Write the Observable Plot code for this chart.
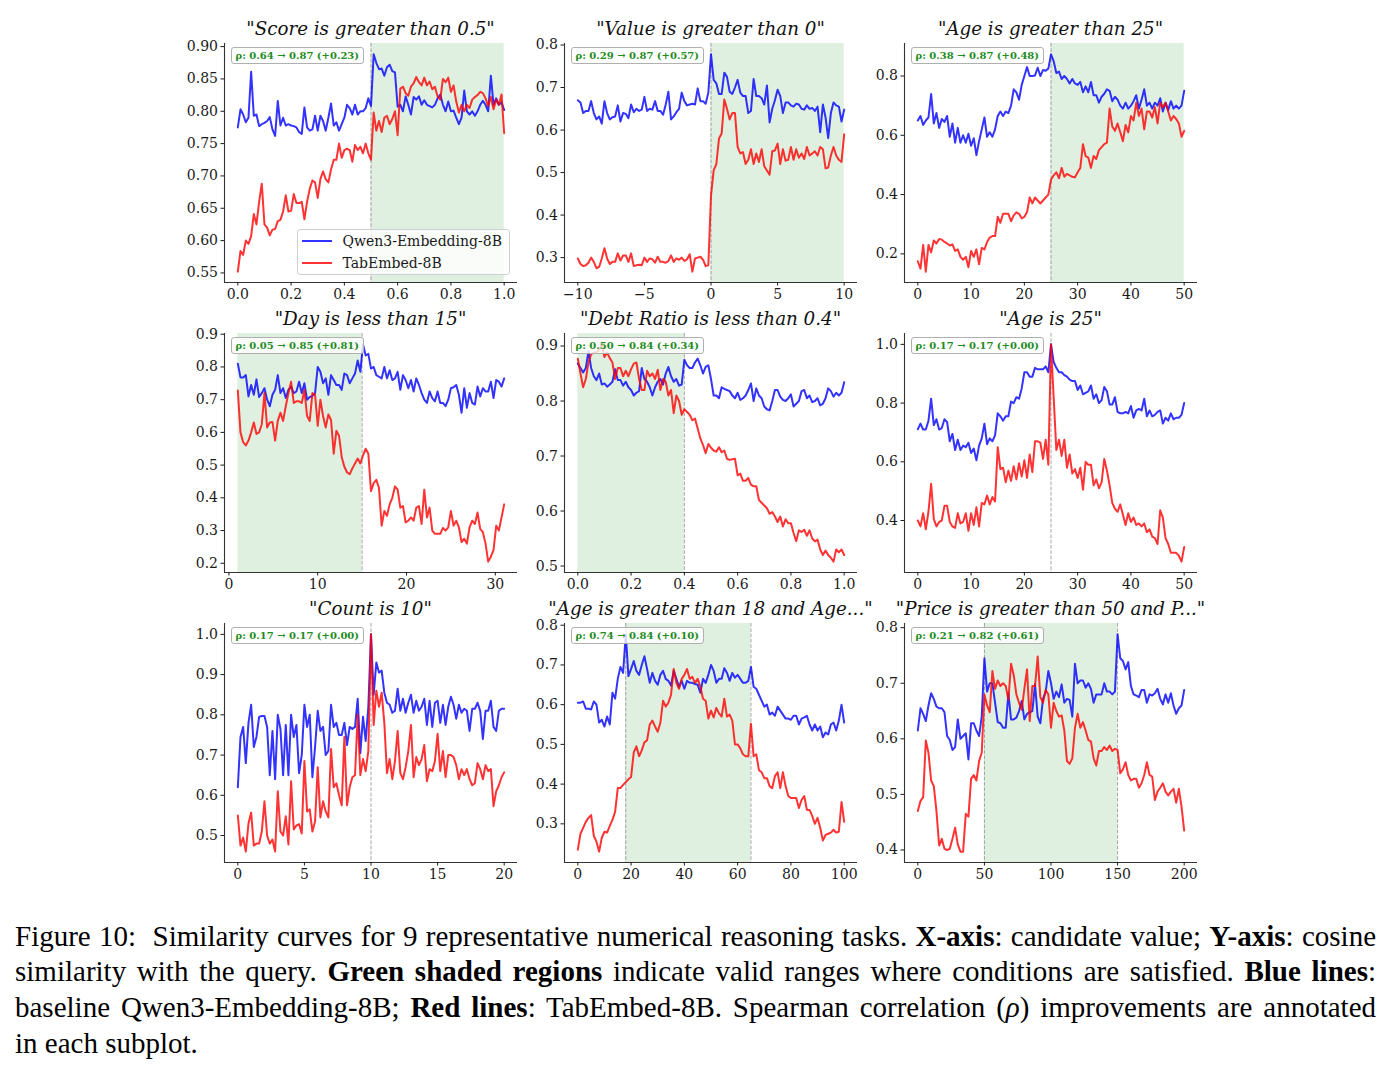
<!DOCTYPE html>
<html>
<head>
<meta charset="utf-8">
<script src="https://cdn.jsdelivr.net/npm/d3@7"></script>
<script src="https://cdn.jsdelivr.net/npm/@observablehq/plot@0.6"></script>
<style>
  body { margin: 0; background: #fff; }
  #fig { position: relative; width: 1396px; height: 1076px; font-family: "DejaVu Serif", serif; color: #1a1a1a; }
  .panel { position: absolute; }
  .title { position: absolute; font-style: italic; font-size: 18.3px; line-height: 18px; white-space: nowrap; transform: translateX(-50%); color: #111; }
  .rho { position: absolute; font-weight: bold; font-size: 10px; line-height: 12px; color: #228b22; background: rgba(255,255,255,0.8);
         border: 1px solid #b0b0b0; border-radius: 3px; padding: 1.5px 4px; white-space: nowrap; }
  .legend { position: absolute; width: 213px; height: 46px; background: rgba(255,255,255,0.8); border: 1px solid #d0d0d0; border-radius: 3px; box-sizing: border-box; }
  .legend .row { position: absolute; left: 0; font-size: 14px; line-height: 14px; white-space: nowrap; }
  .legend .sw { position: absolute; left: 4px; width: 30px; height: 2px; }
  .legend .lab { position: absolute; left: 45px; top: -7px; }
  #caption { position: absolute; left: 15px; top: 918.5px; width: 1361px; font-family: "Liberation Serif", "Times New Roman", serif; font-size: 29px; line-height: 35.7px; color: #000; }
  #caption .ln { text-align: justify; text-align-last: justify; white-space: nowrap; }
  #caption .ln.last { text-align-last: left; }
</style>
</head>
<body>
<div id="fig"></div>
<script>
// ---- Panel titles and Spearman annotations ----
const titles = [
  "\"Score is greater than 0.5\"", "\"Value is greater than 0\"", "\"Age is greater than 25\"",
  "\"Day is less than 15\"", "\"Debt Ratio is less than 0.4\"", "\"Age is 25\"",
  "\"Count is 10\"", "\"Age is greater than 18 and Age...\"", "\"Price is greater than 50 and P...\""
];
const rhoBase  = ["0.64", "0.29", "0.38", "0.05", "0.50", "0.17", "0.17", "0.74", "0.21"];
const rhoTuned = ["0.87", "0.87", "0.87", "0.85", "0.84", "0.17", "0.17", "0.84", "0.82"];
const rhoGain  = ["+0.23", "+0.57", "+0.48", "+0.81", "+0.34", "+0.00", "+0.00", "+0.10", "+0.61"];
const seriesNames = ["Qwen3-Embedding-8B", "TabEmbed-8B"];

// ---- Candidate value ranges (first, last) ----
const xRanges = [[0, 1], [-10, 10], [0, 50], [1, 31], [0, 1], [0, 50], [0, 20], [0, 100], [0, 200]];
// Valid ranges (shaded) and condition boundaries (dashed)
const validRanges = [[0.5, 1], [0, 10], [25, 50], [1, 15], [0, 0.4], null, null, [18, 65], [50, 150]];
const boundaries  = [[0.5], [0], [25], [15], [0.4], [25], [10], [18, 65], [50, 150]];

// ---- Tick values ----
const xTicks = [
  [0, 0.2, 0.4, 0.6, 0.8, 1.0], [-10, -5, 0, 5, 10], [0, 10, 20, 30, 40, 50],
  [0, 10, 20, 30], [0, 0.2, 0.4, 0.6, 0.8, 1.0], [0, 10, 20, 30, 40, 50],
  [0, 5, 10, 15, 20], [0, 20, 40, 60, 80, 100], [0, 50, 100, 150, 200]
];
const yTicks = [
  [0.55, 0.60, 0.65, 0.70, 0.75, 0.80, 0.85, 0.90], [0.3, 0.4, 0.5, 0.6, 0.7, 0.8], [0.2, 0.4, 0.6, 0.8],
  [0.2, 0.3, 0.4, 0.5, 0.6, 0.7, 0.8, 0.9], [0.5, 0.6, 0.7, 0.8, 0.9], [0.4, 0.6, 0.8, 1.0],
  [0.5, 0.6, 0.7, 0.8, 0.9, 1.0], [0.3, 0.4, 0.5, 0.6, 0.7, 0.8], [0.4, 0.5, 0.6, 0.7, 0.8]
];
const xFormats = [".1f", "d", "d", "d", ".1f", "d", "d", "d", "d"];
const yFormats = [".2f", ".1f", ".1f", ".1f", ".1f", ".1f", ".1f", ".1f", ".1f"];

// ---- Cosine similarity curves ----
const qwenScore = [0.775,0.803,0.795,0.783,0.79,0.861,0.793,0.795,0.777,0.78,
  0.782,0.785,0.791,0.772,0.762,0.816,0.778,0.79,0.778,0.78,
  0.778,0.777,0.775,0.768,0.765,0.806,0.775,0.77,0.772,0.793,
  0.77,0.793,0.785,0.77,0.79,0.812,0.778,0.783,0.77,0.78,
  0.79,0.81,0.805,0.795,0.81,0.795,0.80,0.80,0.805,0.82,
  0.808,0.888,0.875,0.865,0.866,0.855,0.868,0.872,0.862,0.86,
  0.807,0.81,0.80,0.823,0.81,0.795,0.822,0.818,0.823,0.81,
  0.817,0.81,0.808,0.806,0.81,0.82,0.826,0.81,0.80,0.815,
  0.80,0.801,0.79,0.78,0.79,0.832,0.80,0.795,0.80,0.793,
  0.80,0.81,0.816,0.81,0.80,0.855,0.81,0.82,0.81,0.814,
  0.802];
const tabScore = [0.552,0.584,0.578,0.60,0.595,0.607,0.641,0.625,0.66,0.688,
  0.625,0.62,0.608,0.617,0.618,0.63,0.632,0.645,0.67,0.645,
  0.646,0.672,0.658,0.658,0.66,0.633,0.66,0.68,0.693,0.69,
  0.666,0.695,0.707,0.695,0.69,0.71,0.725,0.725,0.75,0.728,
  0.74,0.742,0.74,0.722,0.748,0.74,0.745,0.735,0.75,0.735,
  0.725,0.798,0.77,0.785,0.768,0.79,0.793,0.78,0.788,0.80,
  0.763,0.835,0.838,0.828,0.824,0.838,0.843,0.853,0.845,0.84,
  0.852,0.84,0.846,0.834,0.838,0.823,0.818,0.85,0.845,0.852,
  0.83,0.84,0.815,0.798,0.81,0.80,0.81,0.805,0.818,0.822,
  0.825,0.83,0.828,0.82,0.808,0.822,0.803,0.818,0.81,0.826,
  0.766];

const qwenValue = [0.67,0.665,0.64,0.645,0.645,0.668,0.64,0.625,0.632,0.615,
  0.668,0.64,0.625,0.63,0.632,0.658,0.62,0.64,0.638,0.628,
  0.66,0.642,0.65,0.645,0.648,0.678,0.645,0.65,0.648,0.668,
  0.645,0.645,0.636,0.66,0.69,0.625,0.632,0.642,0.65,0.688,
  0.668,0.658,0.66,0.662,0.66,0.698,0.668,0.668,0.662,0.688,
  0.778,0.718,0.71,0.685,0.685,0.735,0.725,0.69,0.685,0.70,
  0.718,0.688,0.68,0.68,0.64,0.645,0.72,0.68,0.68,0.675,
  0.66,0.705,0.618,0.65,0.67,0.695,0.68,0.64,0.665,0.665,
  0.658,0.655,0.662,0.66,0.65,0.648,0.658,0.65,0.652,0.645,
  0.655,0.595,0.66,0.63,0.581,0.64,0.665,0.658,0.655,0.62,
  0.648];
const tabValue = [0.298,0.285,0.28,0.282,0.288,0.30,0.29,0.275,0.278,0.298,
  0.322,0.298,0.285,0.29,0.29,0.31,0.293,0.305,0.305,0.29,
  0.31,0.28,0.282,0.283,0.282,0.30,0.29,0.298,0.296,0.288,
  0.302,0.29,0.29,0.288,0.292,0.305,0.29,0.298,0.295,0.30,
  0.292,0.296,0.308,0.267,0.298,0.30,0.302,0.295,0.28,0.282,
  0.446,0.505,0.52,0.58,0.592,0.672,0.65,0.625,0.64,0.64,
  0.56,0.545,0.548,0.52,0.53,0.555,0.52,0.545,0.525,0.555,
  0.515,0.505,0.495,0.55,0.552,0.568,0.52,0.555,0.528,0.53,
  0.56,0.53,0.555,0.535,0.545,0.532,0.56,0.54,0.545,0.55,
  0.54,0.56,0.555,0.51,0.512,0.54,0.56,0.54,0.53,0.525,
  0.59];

const qwenAgeGt = [0.65,0.665,0.635,0.65,0.66,0.739,0.64,0.675,0.625,0.655,
  0.645,0.665,0.595,0.64,0.575,0.625,0.575,0.60,0.575,0.605,
  0.565,0.59,0.533,0.58,0.62,0.66,0.595,0.61,0.595,0.62,
  0.665,0.68,0.665,0.68,0.675,0.70,0.755,0.745,0.72,0.77,
  0.80,0.83,0.80,0.80,0.802,0.828,0.80,0.82,0.818,0.825,
  0.873,0.85,0.81,0.815,0.79,0.80,0.79,0.775,0.79,0.775,
  0.77,0.78,0.745,0.765,0.745,0.78,0.735,0.735,0.71,0.73,
  0.74,0.755,0.75,0.715,0.73,0.72,0.70,0.69,0.71,0.69,
  0.70,0.715,0.735,0.69,0.72,0.755,0.70,0.71,0.69,0.71,
  0.70,0.725,0.68,0.71,0.685,0.715,0.69,0.70,0.69,0.70,
  0.75];
const tabAgeGt = [0.175,0.15,0.23,0.14,0.23,0.205,0.245,0.235,0.25,0.248,
  0.24,0.235,0.228,0.232,0.21,0.215,0.19,0.18,0.19,0.155,
  0.21,0.19,0.215,0.165,0.22,0.215,0.24,0.255,0.26,0.26,
  0.325,0.305,0.335,0.335,0.335,0.31,0.33,0.34,0.335,0.32,
  0.325,0.34,0.39,0.37,0.39,0.38,0.37,0.38,0.39,0.40,
  0.45,0.465,0.475,0.455,0.49,0.46,0.47,0.465,0.46,0.458,
  0.475,0.49,0.57,0.53,0.525,0.49,0.53,0.52,0.55,0.56,
  0.57,0.575,0.69,0.63,0.615,0.64,0.61,0.58,0.635,0.61,
  0.665,0.65,0.71,0.665,0.69,0.62,0.68,0.68,0.66,0.695,
  0.64,0.71,0.695,0.71,0.68,0.65,0.665,0.655,0.64,0.595,
  0.615];

const qwenDay = [0.81,0.768,0.768,0.775,0.71,0.745,0.715,0.762,0.708,0.72,
  0.735,0.70,0.68,0.715,0.73,0.775,0.72,0.735,0.705,0.73,
  0.74,0.72,0.725,0.755,0.72,0.75,0.70,0.708,0.712,0.72,
  0.80,0.785,0.75,0.765,0.715,0.775,0.76,0.745,0.745,0.73,
  0.78,0.775,0.75,0.765,0.78,0.82,0.785,0.869,0.835,0.84,
  0.795,0.80,0.775,0.77,0.765,0.80,0.765,0.79,0.76,0.765,
  0.785,0.73,0.775,0.76,0.735,0.76,0.725,0.765,0.745,0.72,
  0.70,0.69,0.725,0.705,0.695,0.725,0.69,0.69,0.68,0.70,
  0.735,0.738,0.745,0.715,0.66,0.735,0.675,0.72,0.69,0.685,
  0.74,0.71,0.735,0.725,0.725,0.755,0.705,0.76,0.755,0.74,
  0.765];
const tabDay = [0.728,0.60,0.57,0.56,0.575,0.60,0.63,0.595,0.60,0.625,
  0.72,0.615,0.63,0.632,0.575,0.635,0.66,0.635,0.68,0.72,
  0.755,0.69,0.695,0.695,0.69,0.73,0.65,0.635,0.72,0.715,
  0.62,0.70,0.65,0.615,0.655,0.638,0.535,0.605,0.59,0.525,
  0.495,0.478,0.472,0.49,0.505,0.52,0.505,0.53,0.55,0.535,
  0.42,0.445,0.455,0.43,0.315,0.36,0.345,0.38,0.40,0.435,
  0.425,0.37,0.375,0.325,0.33,0.34,0.33,0.37,0.375,0.32,
  0.425,0.34,0.37,0.30,0.29,0.29,0.29,0.308,0.30,0.31,
  0.36,0.315,0.33,0.31,0.265,0.275,0.26,0.31,0.33,0.32,
  0.355,0.305,0.295,0.26,0.205,0.22,0.24,0.315,0.30,0.34,
  0.38];

const qwenDebt = [0.868,0.86,0.852,0.86,0.89,0.86,0.845,0.838,0.85,0.83,
  0.832,0.826,0.83,0.835,0.858,0.838,0.838,0.828,0.835,0.825,
  0.82,0.81,0.815,0.818,0.86,0.84,0.835,0.825,0.81,0.825,
  0.835,0.84,0.83,0.85,0.862,0.845,0.835,0.84,0.828,0.83,
  0.875,0.865,0.86,0.86,0.87,0.877,0.865,0.85,0.862,0.865,
  0.84,0.81,0.81,0.805,0.825,0.822,0.82,0.818,0.81,0.805,
  0.815,0.802,0.805,0.81,0.82,0.832,0.80,0.823,0.81,0.805,
  0.79,0.785,0.783,0.80,0.82,0.82,0.808,0.802,0.80,0.805,
  0.812,0.79,0.795,0.80,0.818,0.82,0.805,0.81,0.798,0.80,
  0.805,0.792,0.795,0.805,0.823,0.818,0.808,0.815,0.81,0.815,
  0.834];
const tabDebt = [0.877,0.85,0.825,0.84,0.87,0.885,0.888,0.888,0.893,0.903,
  0.88,0.888,0.878,0.87,0.84,0.86,0.86,0.845,0.855,0.845,
  0.858,0.868,0.87,0.84,0.82,0.82,0.855,0.845,0.85,0.84,
  0.857,0.82,0.84,0.835,0.81,0.82,0.778,0.81,0.80,0.775,
  0.785,0.78,0.775,0.765,0.768,0.75,0.732,0.72,0.705,0.722,
  0.715,0.71,0.708,0.716,0.707,0.71,0.695,0.693,0.694,0.695,
  0.665,0.668,0.655,0.655,0.66,0.648,0.645,0.645,0.62,0.615,
  0.61,0.605,0.595,0.598,0.59,0.58,0.59,0.572,0.585,0.578,
  0.578,0.56,0.545,0.565,0.562,0.566,0.555,0.565,0.55,0.545,
  0.548,0.53,0.52,0.528,0.52,0.515,0.508,0.53,0.525,0.53,
  0.52];

const qwenAgeEq = [0.711,0.73,0.71,0.71,0.74,0.815,0.725,0.745,0.71,0.715,
  0.745,0.735,0.67,0.695,0.64,0.675,0.64,0.655,0.65,0.665,
  0.63,0.645,0.605,0.655,0.68,0.73,0.66,0.68,0.67,0.69,
  0.765,0.755,0.74,0.755,0.755,0.805,0.80,0.82,0.815,0.85,
  0.905,0.905,0.89,0.89,0.92,0.915,0.915,0.915,0.925,0.905,
  1.0,0.94,0.92,0.905,0.905,0.895,0.89,0.88,0.875,0.875,
  0.845,0.86,0.83,0.835,0.84,0.86,0.815,0.83,0.80,0.81,
  0.855,0.84,0.795,0.795,0.82,0.77,0.765,0.765,0.77,0.765,
  0.79,0.75,0.775,0.78,0.775,0.815,0.755,0.775,0.755,0.76,
  0.77,0.775,0.73,0.75,0.74,0.765,0.745,0.75,0.75,0.76,
  0.80];
const tabAgeEq = [0.40,0.38,0.425,0.37,0.43,0.525,0.405,0.38,0.395,0.40,
  0.45,0.45,0.395,0.38,0.375,0.425,0.39,0.395,0.425,0.365,
  0.425,0.385,0.445,0.38,0.46,0.455,0.485,0.455,0.48,0.465,
  0.65,0.575,0.58,0.53,0.57,0.535,0.585,0.54,0.595,0.55,
  0.605,0.545,0.625,0.565,0.67,0.67,0.665,0.61,0.675,0.59,
  1.0,0.82,0.64,0.675,0.62,0.675,0.58,0.625,0.56,0.575,
  0.545,0.58,0.505,0.60,0.59,0.59,0.52,0.54,0.51,0.53,
  0.61,0.57,0.52,0.46,0.44,0.43,0.455,0.42,0.385,0.425,
  0.395,0.41,0.385,0.39,0.38,0.39,0.36,0.37,0.345,0.34,
  0.32,0.435,0.41,0.34,0.32,0.29,0.29,0.29,0.28,0.26,
  0.31];

const qwenCount = [0.62,0.745,0.77,0.68,0.78,0.825,0.72,0.745,0.795,0.797,
  0.797,0.77,0.65,0.76,0.64,0.80,0.765,0.65,0.775,0.65,
  0.80,0.745,0.775,0.655,0.70,0.825,0.77,0.80,0.645,0.72,
  0.81,0.76,0.77,0.70,0.71,0.825,0.77,0.78,0.75,0.75,
  0.78,0.725,0.77,0.765,0.77,0.84,0.705,0.795,0.735,0.82,
  1.0,0.85,0.93,0.905,0.91,0.855,0.83,0.825,0.805,0.81,
  0.865,0.81,0.84,0.805,0.83,0.85,0.805,0.835,0.81,0.82,
  0.84,0.775,0.835,0.77,0.83,0.835,0.78,0.825,0.775,0.82,
  0.845,0.825,0.79,0.825,0.805,0.815,0.81,0.76,0.815,0.815,
  0.83,0.81,0.74,0.81,0.81,0.835,0.77,0.76,0.81,0.815,
  0.815];
const tabCount = [0.55,0.475,0.495,0.46,0.53,0.557,0.475,0.48,0.48,0.51,
  0.585,0.50,0.48,0.49,0.46,0.61,0.51,0.50,0.548,0.478,
  0.635,0.515,0.525,0.528,0.505,0.685,0.56,0.565,0.51,0.535,
  0.67,0.545,0.585,0.56,0.545,0.715,0.62,0.63,0.60,0.575,
  0.745,0.575,0.62,0.645,0.65,0.80,0.65,0.69,0.66,0.71,
  1.0,0.775,0.86,0.82,0.855,0.78,0.655,0.69,0.64,0.685,
  0.76,0.655,0.64,0.67,0.71,0.775,0.645,0.695,0.675,0.69,
  0.725,0.635,0.665,0.66,0.685,0.753,0.66,0.71,0.645,0.70,
  0.70,0.695,0.675,0.64,0.665,0.65,0.665,0.64,0.625,0.63,
  0.68,0.665,0.64,0.675,0.66,0.665,0.573,0.61,0.625,0.645,
  0.657];

const qwenAgeRange = [0.605,0.605,0.608,0.59,0.59,0.588,0.608,0.60,0.555,0.562,
  0.545,0.57,0.55,0.63,0.615,0.665,0.695,0.68,0.777,0.672,
  0.69,0.71,0.685,0.675,0.70,0.722,0.69,0.655,0.68,0.66,
  0.65,0.675,0.685,0.665,0.66,0.648,0.685,0.665,0.645,0.66,
  0.64,0.66,0.655,0.655,0.652,0.65,0.63,0.665,0.655,0.675,
  0.70,0.685,0.655,0.665,0.665,0.692,0.68,0.66,0.68,0.668,
  0.675,0.665,0.655,0.655,0.66,0.695,0.645,0.64,0.625,0.61,
  0.595,0.60,0.575,0.58,0.572,0.595,0.585,0.575,0.565,0.565,
  0.562,0.572,0.572,0.55,0.565,0.568,0.572,0.55,0.535,0.55,
  0.535,0.545,0.518,0.53,0.525,0.55,0.555,0.535,0.56,0.60,
  0.555];
const tabAgeRange = [0.235,0.275,0.29,0.305,0.315,0.322,0.27,0.255,0.23,0.265,
  0.28,0.278,0.295,0.31,0.33,0.39,0.39,0.398,0.405,0.412,
  0.418,0.48,0.495,0.47,0.485,0.505,0.51,0.55,0.56,0.545,
  0.532,0.555,0.61,0.595,0.605,0.625,0.69,0.655,0.64,0.665,
  0.675,0.69,0.665,0.67,0.655,0.665,0.645,0.615,0.61,0.565,
  0.585,0.568,0.592,0.578,0.57,0.615,0.57,0.575,0.56,0.50,
  0.50,0.49,0.475,0.47,0.47,0.552,0.47,0.475,0.435,0.43,
  0.415,0.415,0.395,0.39,0.42,0.43,0.39,0.43,0.395,0.37,
  0.365,0.365,0.365,0.34,0.36,0.37,0.335,0.335,0.32,0.30,
  0.315,0.29,0.258,0.272,0.275,0.278,0.285,0.278,0.28,0.355,
  0.305];

const qwenPrice = [0.615,0.655,0.645,0.632,0.66,0.682,0.672,0.658,0.655,0.655,
  0.648,0.605,0.598,0.58,0.585,0.635,0.60,0.605,0.61,0.563,
  0.628,0.628,0.615,0.605,0.64,0.745,0.685,0.70,0.70,0.665,
  0.63,0.628,0.62,0.62,0.682,0.635,0.635,0.638,0.65,0.668,
  0.635,0.645,0.648,0.65,0.698,0.64,0.628,0.672,0.685,0.722,
  0.70,0.672,0.685,0.675,0.698,0.665,0.672,0.67,0.64,0.735,
  0.70,0.705,0.705,0.692,0.70,0.69,0.665,0.68,0.68,0.68,
  0.70,0.685,0.685,0.68,0.685,0.788,0.745,0.74,0.725,0.738,
  0.695,0.68,0.678,0.675,0.688,0.688,0.665,0.68,0.678,0.682,
  0.69,0.672,0.662,0.68,0.665,0.682,0.66,0.645,0.655,0.66,
  0.688];
const tabPrice = [0.47,0.488,0.495,0.597,0.575,0.525,0.515,0.47,0.408,0.42,
  0.402,0.40,0.402,0.42,0.44,0.41,0.397,0.397,0.465,0.46,
  0.528,0.535,0.525,0.56,0.575,0.68,0.66,0.648,0.722,0.69,
  0.705,0.695,0.70,0.695,0.67,0.735,0.715,0.68,0.665,0.652,
  0.69,0.725,0.632,0.695,0.695,0.748,0.675,0.665,0.688,0.68,
  0.62,0.665,0.65,0.64,0.642,0.615,0.56,0.555,0.565,0.62,
  0.645,0.62,0.63,0.615,0.598,0.595,0.565,0.552,0.578,0.578,
  0.585,0.58,0.588,0.578,0.582,0.58,0.538,0.545,0.558,0.535,
  0.525,0.528,0.528,0.512,0.52,0.535,0.558,0.535,0.532,0.49,
  0.505,0.512,0.52,0.505,0.498,0.505,0.51,0.485,0.51,0.478,
  0.435];

const qwenCurves = [qwenScore, qwenValue, qwenAgeGt, qwenDay, qwenDebt, qwenAgeEq, qwenCount, qwenAgeRange, qwenPrice];
const tabCurves  = [tabScore, tabValue, tabAgeGt, tabDay, tabDebt, tabAgeEq, tabCount, tabAgeRange, tabPrice];

// ---- Layout of the 3x3 grid (page pixels) ----
const PLOT_W = 293, PLOT_H = 239;
const COL_LEFT = [224, 564, 904], ROW_TOP = [43, 333, 623];
const M = {left: 55, right: 15, top: 10, bottom: 30};
const BLUE = "blue", RED = "red";

const fig = document.getElementById("fig");

// Autoscaled extent with 5% margins on each side
function pad(lo, hi) { const r = hi - lo; return [lo - 0.05 * r, hi + 0.05 * r]; }

for (let k = 0; k < 9; k++) {
  const col = k % 3, row = Math.floor(k / 3);
  const qwen = qwenCurves[k], tab = tabCurves[k];
  const [x0, x1] = xRanges[k];
  const n = qwen.length;
  const rows = qwen.map((q, i) => ({x: x0 + i * (x1 - x0) / (n - 1), qwen: q, tab: tab[i]}));
  const all = qwen.concat(tab);
  const xDom = pad(x0, x1), yDom = pad(d3.min(all), d3.max(all));

  const marks = [];
  if (validRanges[k]) marks.push(Plot.rect([validRanges[k]], {x1: d => d[0], x2: d => d[1], fill: "green", fillOpacity: 0.12}));
  marks.push(Plot.ruleX(boundaries[k], {stroke: "gray", strokeOpacity: 0.7, strokeWidth: 1, strokeDasharray: "3.7,1.6"}));
  marks.push(Plot.line(rows, {x: "x", y: "qwen", stroke: BLUE, strokeOpacity: 0.8, strokeWidth: 2}));
  marks.push(Plot.line(rows, {x: "x", y: "tab", stroke: RED, strokeOpacity: 0.8, strokeWidth: 2}));
  marks.push(Plot.ruleX([xDom[0]], {stroke: "#333", strokeWidth: 1.1}));
  marks.push(Plot.ruleY([yDom[0]], {stroke: "#333", strokeWidth: 1.1}));
  marks.push(Plot.axisX({ticks: xTicks[k], tickFormat: d3.format(xFormats[k]), tickSize: 3.5, tickPadding: 3, label: null}));
  marks.push(Plot.axisY({ticks: yTicks[k], tickFormat: d3.format(yFormats[k]), tickSize: 3.5, tickPadding: 3, label: null}));

  const svg = Plot.plot({
    width: M.left + PLOT_W + M.right,
    height: M.top + PLOT_H + M.bottom,
    marginLeft: M.left, marginRight: M.right, marginTop: M.top, marginBottom: M.bottom,
    style: {fontFamily: "DejaVu Serif", fontSize: "14px", color: "#1a1a1a", background: "transparent", overflow: "visible"},
    x: {domain: xDom, label: null},
    y: {domain: yDom, label: null},
    marks
  });
  const holder = document.createElement("div");
  holder.className = "panel";
  holder.style.left = (COL_LEFT[col] - M.left) + "px";
  holder.style.top = (ROW_TOP[row] - M.top) + "px";
  holder.appendChild(svg);
  fig.appendChild(holder);

  // Title above each subplot
  const t = document.createElement("div");
  t.className = "title";
  t.textContent = titles[k];
  t.style.left = (COL_LEFT[col] + PLOT_W / 2) + "px";
  t.style.top = (ROW_TOP[row] - 23) + "px";
  fig.appendChild(t);

  // Spearman correlation annotation
  const a = document.createElement("div");
  a.className = "rho";
  a.textContent = `ρ: ${rhoBase[k]} → ${rhoTuned[k]} (${rhoGain[k]})`;
  a.style.left = (COL_LEFT[col] + 6.5) + "px";
  a.style.top = (ROW_TOP[row] + 4) + "px";
  fig.appendChild(a);
}

// Legend in the first subplot
const legend = document.createElement("div");
legend.className = "legend";
legend.style.left = (COL_LEFT[0] + 72.5) + "px";
legend.style.top = (ROW_TOP[0] + 185.5) + "px";
[BLUE, RED].forEach((c, i) => {
  const r = document.createElement("div");
  r.className = "row";
  r.style.top = (11.5 + i * 21.7) + "px";
  r.innerHTML = `<div class="sw" style="background:${c};opacity:0.8;top:-1px"></div><div class="lab">${seriesNames[i]}</div>`;
  legend.appendChild(r);
});
fig.appendChild(legend);

// Figure caption
const cap = document.createElement("div");
cap.id = "caption";
cap.innerHTML =
  `<div class="ln">Figure 10:&nbsp; Similarity curves for 9 representative numerical reasoning tasks. <b>X-axis</b>: candidate value; <b>Y-axis</b>: cosine</div>` +
  `<div class="ln">similarity with the query. <b>Green shaded regions</b> indicate valid ranges where conditions are satisfied. <b>Blue lines</b>:</div>` +
  `<div class="ln">baseline Qwen3-Embedding-8B; <b>Red lines</b>: TabEmbed-8B. Spearman correlation (<i>ρ</i>) improvements are annotated</div>` +
  `<div class="ln last">in each subplot.</div>`;
fig.appendChild(cap);
</script>
</body>
</html>
